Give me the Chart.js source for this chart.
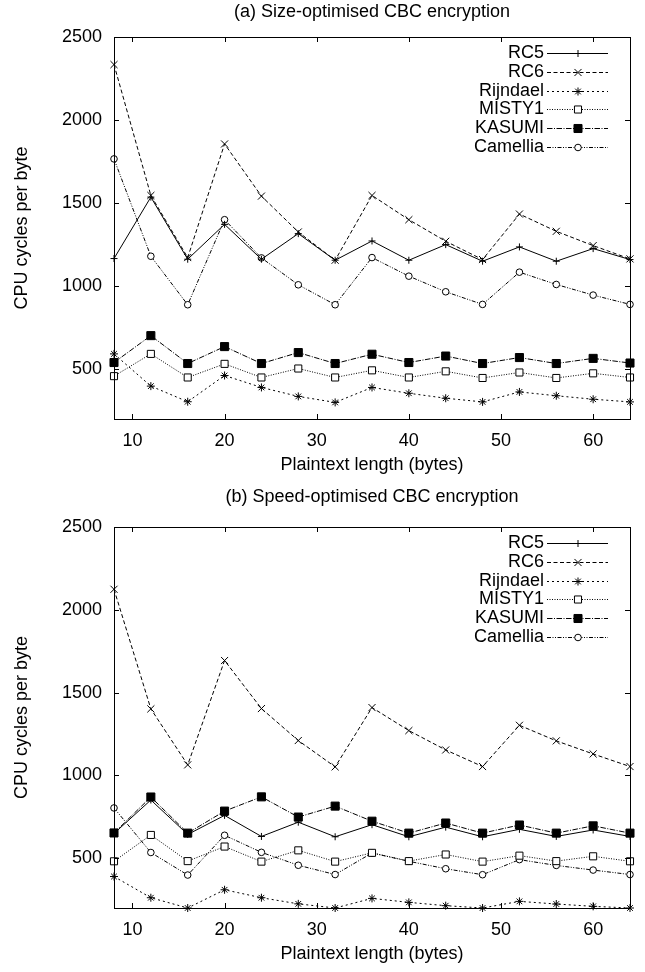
<!DOCTYPE html>
<html lang="en">
<head>
<meta charset="UTF-8" />
<title>CBC encryption - CPU cycles per byte</title>
<script src="https://cdn.jsdelivr.net/npm/chart.js"></script>
<style>
  body { margin: 0; background: #fff; }
  .panel { position: absolute; left: 0; width: 645px; height: 486px; }
  #panelA { top: 0; }
  #panelB { top: 486px; }
</style>
</head>
<body>
<div class="panel" id="panelA"><canvas id="chartA"></canvas></div>
<div class="panel" id="panelB"><canvas id="chartB"></canvas></div>

<script>
// plaintext lengths (bytes)
const lengths = [8, 12, 16, 20, 24, 28, 32, 36, 40, 44, 48, 52, 56, 60, 64];
const xTicks = [10, 20, 30, 40, 50, 60];
const yTicks = [500, 1000, 1500, 2000, 2500];
const cipherNames = ['RC5', 'RC6', 'Rijndael', 'MISTY1', 'KASUMI', 'Camellia'];

// (a) size-optimised
const sizeRC5      = [1166, 1536, 1162, 1372, 1162, 1316, 1156, 1272, 1156, 1250, 1150, 1236, 1150, 1226, 1160];
const sizeRC6      = [2334, 1546, 1172, 1856, 1542, 1326, 1156, 1546, 1400, 1270, 1160, 1434, 1330, 1244, 1164];
const sizeRijndael = [592, 398, 304, 462, 390, 336, 300, 390, 355, 325, 303, 363, 340, 319, 303];
const sizeMISTY1   = [458, 592, 450, 532, 450, 504, 450, 493, 450, 487, 447, 480, 447, 475, 450];
const sizeKASUMI   = [540, 702, 534, 636, 534, 600, 534, 590, 540, 579, 534, 570, 534, 565, 537];
const sizeCamellia = [1766, 1180, 888, 1400, 1170, 1008, 888, 1172, 1060, 966, 890, 1084, 1010, 946, 890];

// (b) speed-optimised
const speedRC5      = [650, 852, 644, 759, 632, 718, 630, 703, 630, 688, 630, 675, 632, 671, 632];
const speedRC6      = [2124, 1402, 1064, 1694, 1404, 1211, 1052, 1410, 1271, 1154, 1054, 1303, 1209, 1130, 1054];
const speedRijndael = [390, 262, 200, 310, 262, 225, 200, 258, 234, 214, 200, 240, 224, 210, 200];
const speedMISTY1   = [482, 641, 483, 571, 480, 548, 480, 533, 483, 523, 480, 516, 483, 512, 482];
const speedKASUMI   = [653, 870, 652, 785, 871, 749, 815, 724, 652, 713, 652, 701, 652, 696, 652];
const speedCamellia = [804, 535, 399, 639, 536, 458, 402, 532, 482, 437, 401, 492, 457, 429, 402];

// gnuplot-like line types, one per cipher
const lineTypes = [
  { dash: [],                       point: 'cross',    radius: 3.5, fill: '#fff' },
  { dash: [4, 2.5],                 point: 'crossRot', radius: 5,   fill: '#fff' },
  { dash: [2, 3],                   point: 'star',     radius: 4,   fill: '#fff' },
  { dash: [1, 1.5],                 point: 'rect',     radius: 5,   fill: '#fff' },
  { dash: [5.5, 1.5, 1, 1.5],       point: 'rect',     radius: 5.7, fill: '#000' },
  { dash: [4, 1.5, 1, 1.5, 1, 1.5], point: 'circle',   radius: 3.3, fill: '#fff' }
];

const FONT = '"Liberation Sans", Arial, Helvetica, sans-serif';
const FONT_SIZE = 18;
Chart.defaults.font.family = FONT;
Chart.defaults.font.size = FONT_SIZE;
Chart.defaults.color = '#000';

function makeDatasets(series) {
  return series.map((vals, i) => ({
    label: cipherNames[i],
    data: lengths.map((x, j) => ({ x: x, y: vals[j] })),
    borderColor: '#000',
    borderWidth: 1,
    borderDash: lineTypes[i].dash,
    pointStyle: lineTypes[i].point,
    pointRadius: lineTypes[i].radius,
    pointBackgroundColor: lineTypes[i].fill,
    pointBorderColor: '#000',
    pointBorderWidth: 1,
    fill: false,
    tension: 0,
    clip: false
  }));
}

// title over the plot, border box, inward mirrored ticks and the key, gnuplot style
const frame = {
  id: 'frame',
  afterDraw(chart, args, opts) {
    const { ctx, chartArea: a } = chart;
    const x = chart.scales.x, y = chart.scales.y;
    ctx.save();
    ctx.fillStyle = '#000';
    ctx.font = FONT_SIZE + 'px ' + FONT;
    ctx.textAlign = 'center';
    ctx.textBaseline = 'middle';
    ctx.fillText(opts.title, (a.left + a.right) / 2, opts.titleY);

    ctx.strokeStyle = '#000';
    ctx.lineWidth = 1;
    ctx.setLineDash([]);
    ctx.strokeRect(Math.round(a.left) + 0.5, Math.round(a.top) + 0.5,
                   Math.round(a.right - a.left), Math.round(a.bottom - a.top));
    ctx.beginPath();
    xTicks.forEach(v => {
      const px = Math.round(x.getPixelForValue(v)) + 0.5;
      ctx.moveTo(px, a.bottom); ctx.lineTo(px, a.bottom - 5);
      ctx.moveTo(px, a.top); ctx.lineTo(px, a.top + 5);
    });
    yTicks.forEach(v => {
      const py = Math.round(y.getPixelForValue(v)) + 0.5;
      ctx.moveTo(a.left, py); ctx.lineTo(a.left + 5, py);
      ctx.moveTo(a.right, py); ctx.lineTo(a.right - 5, py);
    });
    ctx.stroke();

    // key
    const tx = a.right - 86;
    ctx.textAlign = 'right';
    chart.data.datasets.forEach((ds, i) => {
      const ly = Math.round(a.top + 16 + i * 18.8) + 0.5;
      ctx.fillStyle = '#000';
      ctx.fillText(ds.label, tx, ly);
      ctx.strokeStyle = '#000';
      ctx.lineWidth = 1;
      ctx.setLineDash(ds.borderDash);
      ctx.beginPath();
      ctx.moveTo(tx + 3, ly);
      ctx.lineTo(tx + 64, ly);
      ctx.stroke();
      ctx.setLineDash([]);
      ctx.fillStyle = ds.pointBackgroundColor;
      ctx.strokeStyle = '#000';
      Chart.helpers.drawPoint(ctx, {
        pointStyle: ds.pointStyle, radius: ds.pointRadius, borderWidth: 1, rotation: 0
      }, tx + 34, ly);
    });
    ctx.restore();
  }
};

function makeChart(id, title, series, pos) {
  return new Chart(document.getElementById(id), {
    type: 'line',
    data: { datasets: makeDatasets(series) },
    plugins: [frame],
    options: {
      responsive: true,
      maintainAspectRatio: false,
      animation: false,
      layout: { padding: { left: 0, right: 15, top: pos.plotTop, bottom: pos.bottom } },
      plugins: {
        legend: { display: false },
        tooltip: { enabled: false },
        title: { display: false },
        frame: { title: title, titleY: pos.titleY }
      },
      scales: {
        x: {
          type: 'linear',
          min: 8,
          max: 64,
          afterBuildTicks: s => { s.ticks = xTicks.map(v => ({ value: v })); },
          afterFit: s => { s.height = 61; },
          ticks: { padding: 11, maxRotation: 0, autoSkip: false, color: '#000' },
          grid: { display: false, drawTicks: false },
          border: { display: false },
          title: {
            display: true,
            text: 'Plaintext length (bytes)',
            color: '#000',
            padding: { top: 4, bottom: 4 }
          }
        },
        y: {
          type: 'linear',
          min: 200,
          max: 2500,
          afterBuildTicks: s => { s.ticks = yTicks.map(v => ({ value: v })); },
          afterFit: s => { s.width = 114; },
          ticks: { padding: 12, autoSkip: false, color: '#000', callback: v => String(v) },
          grid: { display: false, drawTicks: false },
          border: { display: false },
          title: {
            display: true,
            text: 'CPU cycles per byte',
            color: '#000',
            padding: { top: 11, bottom: 0 }
          }
        }
      }
    }
  });
}

makeChart('chartA', '(a) Size-optimised CBC encryption',
  [sizeRC5, sizeRC6, sizeRijndael, sizeMISTY1, sizeKASUMI, sizeCamellia],
  { titleY: 12, plotTop: 37, bottom: 6 });

makeChart('chartB', '(b) Speed-optimised CBC encryption',
  [speedRC5, speedRC6, speedRijndael, speedMISTY1, speedKASUMI, speedCamellia],
  { titleY: 11, plotTop: 41, bottom: 3 });
</script>
</body>
</html>
